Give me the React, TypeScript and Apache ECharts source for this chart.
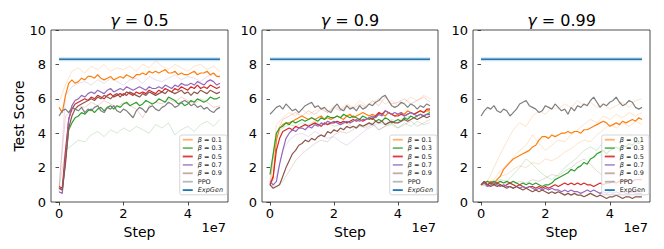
import React, { useEffect, useRef } from "react";
import * as echarts from "echarts";

// ---------------- data ----------------
const GAMMAS = ["0.5", "0.9", "0.99"];
const LEGEND_NAMES = ["β = 0.1", "β = 0.3", "β = 0.5", "β = 0.7", "β = 0.9", "PPO", "ExpGen"];
const X_TICKS = [0, 2, 4];
const X_MIN = -0.25;
const X_MAX = 5.25;
const Y_MIN = 0;
const Y_MAX = 10;
const Y_STEP = 2;
const EXPGEN_MEAN = 8.3;
const EXPGEN_STD = 0.12;
const EXPGEN_X = [0, 5];
const MAIN_STEP = 0.1; // in units of 1e7 steps
const SEED_STEP = 0.2;

// gamma = 0.5
const g05_b01 = [5.5, 5.2, 6.2, 6.9, 7.1, 6.9, 7.0, 7.2, 7.1, 7.3, 7.3, 7.2, 7.4, 7.2, 7.1, 7.2, 7.3, 7.1, 7.2, 7.3, 7.2, 7.4, 7.3, 7.2, 7.4, 7.4, 7.5, 7.4, 7.6, 7.5, 7.6, 7.5, 7.6, 7.7, 7.5, 7.5, 7.6, 7.4, 7.5, 7.4, 7.4, 7.5, 7.6, 7.4, 7.5, 7.5, 7.6, 7.4, 7.5, 7.3, 7.3];
const g05_b03 = [0.8, 0.7, 2.5, 4.2, 4.6, 4.9, 5.0, 5.2, 5.1, 5.3, 5.4, 5.2, 5.4, 5.5, 5.3, 5.5, 5.6, 5.4, 5.6, 5.5, 5.7, 5.8, 5.6, 5.7, 5.8, 5.6, 5.7, 5.9, 5.8, 5.7, 5.8, 6.0, 5.9, 5.8, 6.1, 6.0, 5.9, 5.7, 5.8, 5.6, 5.7, 5.9, 5.8, 6.0, 5.9, 5.8, 5.9, 6.1, 6.0, 6.0, 6.1];
const g05_b05 = [0.9, 0.8, 3.0, 4.8, 5.4, 5.7, 5.8, 5.9, 6.0, 5.9, 6.1, 6.0, 6.2, 6.1, 6.0, 6.2, 6.3, 6.1, 6.2, 6.3, 6.2, 6.4, 6.3, 6.2, 6.4, 6.3, 6.4, 6.3, 6.5, 6.4, 6.3, 6.5, 6.4, 6.6, 6.5, 6.4, 6.6, 6.5, 6.7, 6.6, 6.5, 6.7, 6.6, 6.8, 6.6, 6.7, 6.6, 6.8, 6.7, 6.6, 6.7];
const g05_b07 = [0.6, 0.5, 2.5, 4.8, 5.6, 5.9, 6.0, 6.2, 6.1, 6.3, 6.4, 6.3, 6.5, 6.4, 6.3, 6.5, 6.6, 6.4, 6.5, 6.6, 6.5, 6.7, 6.6, 6.5, 6.6, 6.7, 6.6, 6.5, 6.7, 6.6, 6.6, 6.7, 6.6, 6.8, 6.7, 6.6, 6.8, 6.7, 6.9, 6.8, 6.8, 6.9, 6.8, 7.0, 6.9, 6.8, 7.0, 7.1, 7.0, 6.8, 6.9];
const g05_b09 = [0.8, 0.7, 2.2, 4.3, 5.0, 5.4, 5.6, 5.7, 5.8, 5.9, 6.0, 5.9, 6.1, 6.0, 6.2, 6.1, 6.0, 6.2, 6.3, 6.1, 6.3, 6.2, 6.4, 6.3, 6.2, 6.1, 6.3, 6.2, 6.4, 6.3, 6.2, 6.3, 6.4, 6.3, 6.5, 6.4, 6.3, 6.4, 6.5, 6.3, 6.4, 6.2, 6.4, 6.3, 6.5, 6.4, 6.3, 6.5, 6.4, 6.3, 6.4];
const g05_ppo = [5.0, 5.3, 5.4, 5.2, 5.5, 5.4, 5.3, 5.5, 5.2, 5.4, 5.3, 5.5, 5.6, 5.3, 5.2, 5.5, 5.4, 5.6, 5.3, 5.2, 5.4, 5.3, 5.1, 4.9, 5.3, 5.5, 5.4, 5.2, 5.5, 5.6, 5.4, 5.3, 5.5, 5.6, 5.8, 5.7, 5.5, 5.6, 5.8, 5.9, 5.8, 5.6, 5.7, 5.5, 5.6, 5.4, 5.5, 5.3, 5.2, 5.4, 5.5];
const s05_green_low = [0.8, 3.0, 3.3, 3.6, 3.5, 3.9, 4.1, 3.8, 4.2, 4.0, 4.3, 4.1, 4.4, 4.2, 4.0, 4.5, 4.3, 4.6, 3.9, 4.2, 4.4, 4.1, 4.5, 4.7, 4.4, 4.8];
const s05_orange_hi = [5.8, 6.8, 7.6, 7.8, 7.5, 7.9, 7.7, 8.0, 7.6, 7.8, 7.7, 7.9, 7.6, 8.0, 7.8, 8.2, 7.9, 7.7, 8.0, 7.8, 7.6, 7.9, 8.0, 7.7, 7.9, 7.6];
const s05_red_lo = [0.9, 5.0, 5.3, 5.6, 5.5, 5.8, 5.6, 5.9, 5.7, 5.5, 5.8, 5.6, 5.4, 4.9, 5.6, 5.8, 5.7, 6.0, 5.8, 6.1, 5.9, 5.7, 6.0, 5.8, 5.5, 5.6];
const s05_purple_hi = [0.6, 6.2, 6.7, 6.9, 7.0, 6.8, 7.1, 6.9, 7.2, 7.0, 6.8, 7.1, 7.2, 6.9, 7.3, 7.1, 7.0, 7.2, 7.4, 7.1, 7.3, 7.2, 7.0, 7.3, 7.4, 7.2];

// gamma = 0.9
const g09_b01 = [1.0, 1.4, 3.6, 4.3, 4.5, 4.6, 4.6, 4.7, 4.8, 4.9, 5.0, 4.9, 4.8, 4.9, 4.8, 4.9, 5.0, 4.8, 4.9, 4.8, 4.9, 5.0, 4.9, 4.8, 5.0, 5.1, 4.9, 5.0, 5.1, 5.2, 5.1, 5.0, 5.1, 5.0, 5.2, 5.1, 5.0, 5.2, 5.1, 5.0, 5.1, 5.2, 5.1, 5.3, 5.2, 5.1, 5.2, 5.3, 5.2, 5.3, 5.3];
const g09_b03 = [1.6, 2.8, 4.0, 4.3, 4.4, 4.6, 4.5, 4.7, 4.6, 4.7, 4.8, 4.7, 4.8, 4.9, 4.8, 4.7, 4.9, 4.8, 5.0, 4.9, 4.9, 5.0, 4.9, 5.1, 5.0, 4.9, 5.0, 4.9, 4.8, 5.0, 4.9, 4.8, 4.9, 4.7, 4.8, 4.7, 4.9, 4.8, 4.6, 4.7, 4.8, 4.7, 4.9, 4.8, 5.0, 4.9, 5.0, 5.1, 5.0, 5.1, 5.2];
const g09_b05 = [1.0, 1.5, 3.0, 3.7, 4.1, 4.2, 4.3, 4.2, 4.4, 4.3, 4.4, 4.5, 4.4, 4.5, 4.6, 4.5, 4.4, 4.6, 4.5, 4.6, 4.6, 4.7, 4.6, 4.7, 4.6, 4.7, 4.8, 4.7, 4.8, 4.7, 4.8, 4.9, 4.8, 5.0, 5.2, 5.1, 5.3, 5.2, 5.1, 5.0, 5.0, 5.1, 5.0, 5.1, 5.2, 5.1, 5.2, 5.3, 5.2, 5.4, 5.4];
const g09_b07 = [1.2, 1.0, 1.2, 2.2, 3.0, 3.7, 4.0, 4.2, 4.1, 4.3, 4.3, 4.2, 4.4, 4.3, 4.5, 4.4, 4.6, 4.5, 4.7, 4.6, 4.7, 4.6, 4.5, 4.6, 4.7, 4.6, 4.7, 4.8, 4.7, 4.8, 4.8, 4.9, 5.0, 4.9, 5.1, 5.0, 5.3, 5.2, 5.1, 5.2, 5.1, 5.2, 5.0, 5.1, 5.2, 5.1, 5.0, 5.1, 5.0, 5.1, 5.1];
const g09_b09 = [1.0, 0.8, 0.9, 1.0, 1.5, 2.0, 2.4, 2.8, 3.0, 3.3, 3.4, 3.6, 3.5, 3.7, 3.6, 3.8, 3.9, 3.8, 4.1, 4.0, 4.2, 4.1, 4.3, 4.2, 4.4, 4.3, 4.4, 4.3, 4.5, 4.4, 4.5, 4.6, 4.5, 4.7, 4.6, 4.7, 4.5, 4.6, 4.7, 4.6, 4.6, 4.7, 4.8, 4.7, 4.8, 4.9, 4.8, 4.9, 5.0, 4.9, 5.0];
const g09_ppo = [5.1, 5.3, 5.5, 5.6, 5.4, 5.7, 5.5, 5.3, 5.4, 5.2, 5.4, 5.6, 5.7, 5.8, 5.5, 5.6, 5.4, 5.5, 5.3, 5.2, 5.5, 5.7, 5.4, 5.3, 5.6, 5.4, 5.5, 5.3, 5.6, 5.4, 5.5, 5.7, 5.6, 5.8, 5.9, 6.1, 6.2, 5.9, 5.6, 5.5, 5.6, 5.8, 5.7, 5.5, 5.7, 5.6, 5.4, 5.6, 5.5, 5.7, 5.6];
const s09_purple_lo = [1.0, 1.5, 3.0, 3.6, 3.9, 4.0, 3.8, 4.1, 3.9, 3.7, 3.8, 3.5, 3.3, 3.6, 3.9, 4.2, 4.4, 4.6, 4.5, 4.8, 4.7, 4.9, 5.0, 4.8, 5.1, 5.0];
const s09_brown_lo = [1.0, 0.9, 1.2, 1.8, 2.4, 2.8, 3.1, 3.4, 3.6, 3.5, 3.9, 4.1, 4.0, 4.2, 4.4, 4.3, 4.5, 4.2, 4.4, 4.6, 4.3, 4.5, 4.7, 4.4, 4.6, 4.8];
const s09_red_hi = [1.0, 4.0, 4.8, 5.0, 5.2, 5.0, 5.3, 5.1, 5.4, 5.2, 5.5, 5.3, 5.6, 5.4, 5.7, 5.5, 5.9, 5.6, 6.1, 5.7, 5.8, 6.0, 5.7, 5.9, 6.1, 5.8];
const s09_orange_hi = [1.0, 4.5, 4.9, 5.2, 5.0, 5.4, 5.1, 5.3, 5.5, 5.2, 5.6, 5.4, 5.7, 5.5, 5.9, 5.6, 5.8, 6.0, 5.7, 5.9, 5.6, 5.8, 6.1, 5.9, 6.2, 6.0];
const s09_green_lo = [1.6, 4.0, 4.3, 4.5, 4.4, 4.6, 4.5, 4.7, 4.5, 4.6, 4.4, 4.5, 4.6, 4.3, 4.5, 4.4, 4.6, 4.2, 4.4, 4.5, 4.3, 4.6, 4.4, 4.7, 4.5, 4.6];

// gamma = 0.99
const g099_b01 = [1.0, 1.1, 1.0, 1.2, 1.1, 1.3, 1.5, 1.9, 2.1, 2.3, 2.5, 2.6, 2.7, 2.8, 2.9, 3.0, 3.2, 3.3, 3.6, 3.8, 3.8, 3.7, 3.9, 3.8, 3.9, 4.0, 4.0, 4.1, 4.0, 4.1, 4.1, 4.0, 4.2, 4.2, 4.3, 4.4, 4.5, 4.6, 4.7, 4.6, 4.4, 4.5, 4.6, 4.5, 4.7, 4.6, 4.7, 4.8, 4.7, 4.9, 4.8];
const g099_b03 = [1.0, 1.1, 1.2, 1.1, 1.2, 1.1, 1.2, 1.1, 1.2, 1.1, 1.2, 1.1, 1.0, 1.1, 1.0, 1.1, 1.0, 1.1, 1.0, 0.9, 1.0, 1.0, 1.1, 1.3, 1.4, 1.5, 1.6, 1.7, 1.9, 1.8, 2.0, 2.1, 2.3, 2.2, 2.5, 2.6, 2.8, 2.9, 3.0, 2.8, 3.0, 3.1, 3.2, 3.1, 3.3, 3.2, 3.4, 3.3, 3.5, 3.4, 3.5];
const g099_b05 = [1.0, 1.2, 1.0, 1.1, 1.0, 1.1, 1.0, 0.9, 1.0, 1.1, 1.0, 0.9, 1.0, 0.9, 0.8, 0.9, 0.9, 0.8, 0.9, 0.8, 0.9, 0.8, 0.9, 1.0, 0.9, 1.0, 1.1, 1.0, 1.1, 1.0, 1.1, 1.0, 1.1, 1.0, 1.0, 0.9, 1.0, 1.1, 1.0, 1.1, 1.1, 1.2, 1.1, 1.2, 1.3, 1.2, 1.3, 1.2, 1.3, 1.3, 1.3];
const g099_b07 = [1.0, 1.1, 0.9, 1.0, 1.1, 1.0, 0.9, 1.0, 0.9, 0.9, 0.8, 0.9, 0.8, 0.9, 0.8, 0.9, 0.8, 0.7, 0.8, 0.7, 0.8, 0.7, 0.8, 0.7, 0.7, 0.6, 0.7, 0.6, 0.7, 0.6, 0.6, 0.5, 0.6, 0.7, 0.6, 0.7, 0.6, 0.5, 0.6, 0.5, 0.6, 0.5, 0.6, 0.5, 0.6, 0.5, 0.5, 0.6, 0.5, 0.5, 0.5];
const g099_b09 = [1.0, 1.2, 1.0, 0.9, 1.0, 0.9, 1.0, 0.9, 0.8, 0.9, 0.8, 0.9, 0.8, 0.7, 0.8, 0.7, 0.6, 0.7, 0.6, 0.7, 0.6, 0.5, 0.6, 0.5, 0.6, 0.5, 0.4, 0.5, 0.4, 0.5, 0.4, 0.4, 0.3, 0.4, 0.5, 0.4, 0.3, 0.4, 0.3, 0.2, 0.3, 0.3, 0.4, 0.3, 0.2, 0.3, 0.3, 0.2, 0.3, 0.3, 0.3];
const g099_ppo = [5.0, 5.3, 5.5, 5.4, 5.6, 5.3, 5.2, 5.4, 5.3, 5.0, 5.2, 5.4, 5.7, 5.8, 5.9, 5.6, 5.5, 5.4, 5.2, 5.3, 5.6, 5.5, 5.4, 5.7, 5.5, 5.3, 5.4, 5.1, 5.5, 5.3, 5.6, 5.5, 5.7, 5.6, 5.9, 6.1, 5.8, 5.5, 5.7, 5.6, 5.8, 5.9, 6.1, 5.8, 5.6, 5.7, 5.9, 5.8, 5.5, 5.4, 5.5];
const s099_orange_a = [1.0, 1.2, 2.0, 2.8, 3.5, 4.2, 4.6, 4.4, 5.0, 5.3, 5.1, 5.5, 5.4, 5.7, 5.5, 5.9, 5.6, 5.8, 5.5, 5.7, 5.4, 5.6, 5.8, 5.5, 5.9, 6.0];
const s099_orange_b = [1.0, 1.1, 1.3, 1.8, 2.2, 2.6, 3.0, 3.3, 3.9, 3.4, 3.0, 3.3, 3.6, 3.5, 3.9, 4.2, 4.5, 4.8, 4.6, 5.0, 4.8, 5.1, 4.9, 5.2, 5.0, 5.2];
const s099_orange_c = [1.0, 1.0, 1.2, 1.5, 1.6, 1.9, 2.1, 2.0, 2.3, 2.2, 2.5, 2.4, 2.6, 2.9, 3.1, 3.4, 3.6, 3.5, 3.9, 4.2, 4.5, 4.3, 4.6, 4.4, 4.7, 4.5];
const s099_green_a = [1.0, 1.2, 1.1, 1.3, 1.2, 1.6, 2.0, 2.5, 2.2, 1.8, 1.5, 1.3, 1.6, 2.0, 2.3, 2.6, 3.0, 3.2, 3.0, 3.5, 3.8, 3.4, 3.6, 3.9, 3.7, 3.8];
const s099_brown_a = [1.0, 0.9, 1.0, 0.9, 1.1, 1.0, 1.2, 1.1, 1.3, 1.2, 1.4, 1.6, 1.5, 1.8, 2.0, 2.3, 2.5, 2.2, 1.8, 1.5, 1.2, 1.0, 0.9, 1.0, 0.8, 0.9];

// ---------------- styling ----------------
const FONT = "DejaVu Sans";
const COLORS = ["#ff7f0e", "#2ca02c", "#d62728", "#9467bd", "#8c564b", "#7f7f7f"];
const EXP_COLOR = "#1f77b4";
const LEGEND_COLORS = [
  "rgba(255,127,14,0.6)",
  "rgba(44,160,44,0.7)",
  "rgba(214,39,40,0.9)",
  "rgba(148,103,189,0.7)",
  "rgba(140,86,75,0.5)",
  "rgba(127,127,127,0.55)",
  "#1f77b4",
];
const GRID_TOP = 30;
const GRID_H = 172;
const GRIDS = [
  { left: 51, width: 177 },
  { left: 262, width: 176 },
  { left: 473, width: 177 },
];

const PANELS = [
  {
    main: [g05_b01, g05_b03, g05_b05, g05_b07, g05_b09, g05_ppo],
    seeds: [
      [s05_green_low, 1],
      [s05_orange_hi, 0],
      [s05_red_lo, 2],
      [s05_purple_hi, 3],
    ],
  },
  {
    main: [g09_b01, g09_b03, g09_b05, g09_b07, g09_b09, g09_ppo],
    seeds: [
      [s09_purple_lo, 3],
      [s09_brown_lo, 4],
      [s09_red_hi, 2],
      [s09_orange_hi, 0],
      [s09_green_lo, 1],
    ],
  },
  {
    main: [g099_b01, g099_b03, g099_b05, g099_b07, g099_b09, g099_ppo],
    seeds: [
      [s099_orange_a, 0],
      [s099_orange_b, 0],
      [s099_orange_c, 0],
      [s099_green_a, 1],
      [s099_brown_a, 4],
    ],
  },
];

function toPairs(vals: number[], step: number) {
  return vals.map((v, i) => [Math.round(i * step * 100) / 100, v]);
}

function buildOption() {
  const series: any[] = [];
  PANELS.forEach((p, gi) => {
    p.seeds.forEach(([vals, ci]: any, si: number) => {
      series.push({
        type: "line",
        name: `seed-${gi}-${si}`,
        xAxisIndex: gi,
        yAxisIndex: gi,
        data: toPairs(vals, SEED_STEP),
        showSymbol: false,
        symbol: "none",
        silent: true,
        lineStyle: { color: COLORS[ci], width: 1, opacity: 0.22 },
        z: 1,
      });
    });
    p.main.forEach((vals, k) => {
      series.push({
        type: "line",
        name: LEGEND_NAMES[k],
        xAxisIndex: gi,
        yAxisIndex: gi,
        data: toPairs(vals, MAIN_STEP),
        showSymbol: false,
        symbol: "none",
        itemStyle: { color: COLORS[k] },
        lineStyle: { color: COLORS[k], width: 1.2 },
        z: 3,
      });
    });
    series.push({
      type: "line",
      name: "ExpGen",
      xAxisIndex: gi,
      yAxisIndex: gi,
      data: EXPGEN_X.map((x) => [x, EXPGEN_MEAN]),
      showSymbol: false,
      symbol: "none",
      itemStyle: { color: EXP_COLOR },
      lineStyle: { color: EXP_COLOR, width: 1.4 },
      z: 4,
      markArea: {
        silent: true,
        itemStyle: { color: "rgba(31,119,180,0.22)" },
        data: [
          [
            { coord: [EXPGEN_X[0], EXPGEN_MEAN - EXPGEN_STD] },
            { coord: [EXPGEN_X[1], EXPGEN_MEAN + EXPGEN_STD] },
          ],
        ],
      },
    });
  });

  const tickStyle = { show: true, inside: false, length: 3.5, lineStyle: { color: "#222", width: 0.8 } };

  const option: any = {
    animation: false,
    backgroundColor: "#fff",
    grid: GRIDS.map((g) => ({
      left: g.left,
      top: GRID_TOP,
      width: g.width,
      height: GRID_H,
      show: true,
      borderColor: "#222",
      borderWidth: 0.8,
      backgroundColor: "transparent",
    })),
    xAxis: GRIDS.map((g, i) => ({
      type: "value",
      gridIndex: i,
      min: X_MIN,
      max: X_MAX,
      name: "Step",
      nameLocation: "middle",
      nameGap: 18,
      nameTextStyle: { fontFamily: FONT, fontSize: 14, color: "#000" },
      axisLine: { show: false },
      axisTick: { ...tickStyle, customValues: X_TICKS },
      axisLabel: {
        customValues: X_TICKS,
        fontFamily: FONT,
        fontSize: 13,
        color: "#000",
        margin: 5,
        formatter: (v: number) => String(v),
      },
      splitLine: { show: false },
    })),
    yAxis: GRIDS.map((g, i) => ({
      type: "value",
      gridIndex: i,
      min: Y_MIN,
      max: Y_MAX,
      interval: Y_STEP,
      name: i === 0 ? "Test Score" : "",
      nameLocation: "middle",
      nameGap: 23,
      nameRotate: 90,
      nameTextStyle: { fontFamily: FONT, fontSize: 14, color: "#000" },
      axisLine: { show: false },
      axisTick: tickStyle,
      axisLabel: { fontFamily: FONT, fontSize: 13, color: "#000", margin: 5 },
      splitLine: { show: false },
    })),
    legend: GRIDS.map((g, i) => ({
      orient: "vertical",
      right: 664 - (g.left + g.width) + 1,
      top: 135,
      icon: "rect",
      itemWidth: 10,
      itemHeight: 1.8,
      itemGap: 1.4,
      itemStyle: { borderWidth: 0 },
      padding: [1.2, 4, 1.2, 3],
      backgroundColor: "rgba(255,255,255,0.8)",
      borderColor: "#cccccc",
      borderWidth: 0.8,
      borderRadius: 2,
      selectedMode: false,
      textStyle: {
        fontFamily: FONT,
        fontSize: 6.5,
        lineHeight: 6,
        color: "#222",
        rich: {
          i: { fontStyle: "italic", fontFamily: FONT, fontSize: 6.5, lineHeight: 6, color: "#222" },
        },
      },
      formatter: (name: string) => {
        if (name.startsWith("β")) return "{i|β}" + name.slice(1);
        if (name === "ExpGen" && i < 2) return "{i|ExpGen}";
        return name;
      },
      data: LEGEND_NAMES.map((n, k) => ({ name: n, itemStyle: { color: LEGEND_COLORS[k] } })),
    })),
    graphic: [
      ...GRIDS.map((g, i) => ({
        type: "text",
        x: g.left + g.width / 2,
        y: 20.5,
        silent: true,
        style: {
          text: `{g|γ} = ${GAMMAS[i]}`,
          rich: { g: { fontStyle: "italic", fontFamily: FONT, fontSize: 16, fill: "#000" } },
          fontFamily: FONT,
          fontSize: 16,
          fill: "#000",
          textAlign: "center",
          textVerticalAlign: "middle",
        },
      })),
      ...GRIDS.map((g) => ({
        type: "text",
        x: g.left + g.width - 2,
        y: 227,
        silent: true,
        style: {
          text: "1e7",
          fontFamily: FONT,
          fontSize: 13,
          fill: "#000",
          textAlign: "right",
          textVerticalAlign: "middle",
        },
      })),
    ],
    series,
  };
  return option;
}

export default function App() {
  const ref = useRef<HTMLDivElement>(null);
  useEffect(() => {
    if (!ref.current) return;
    const chart = echarts.init(ref.current, undefined, { renderer: "svg" });
    chart.setOption(buildOption());
    return () => chart.dispose();
  }, []);
  return (
    <div
      ref={ref}
      style={{ position: "fixed", left: 0, top: 0, width: 664, height: 249, background: "#fff" }}
    />
  );
}
